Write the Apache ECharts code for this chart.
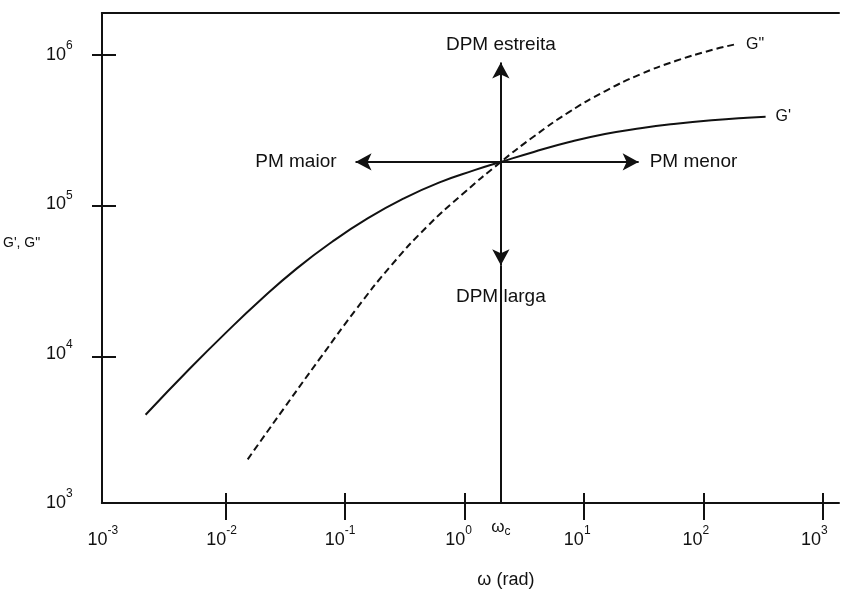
<!DOCTYPE html>
<html><head><meta charset="utf-8">
<script src="https://cdn.jsdelivr.net/npm/echarts@6/dist/echarts.min.js"></script>
<style>html,body{margin:0;padding:0;background:#fff}#c{width:842px;height:594px}</style>
</head><body><div id="c"></div>
<script>
// ---- data ----
const gPrimeOmega  = [0.00212, 0.00501, 0.01, 0.01995, 0.0398, 0.0794, 0.158, 0.316, 0.631, 1.259, 2.1, 3.98, 7.94, 15.85, 31.6, 63.1, 126, 251, 359];
const gPrimeValues = [3900, 7943, 13710, 23010, 37070, 56100, 80350, 108900, 139600, 169000, 191900, 223900, 260600, 295100, 322800, 345900, 364800, 379300, 384600];
const gDoubleOmega  = [0.0154, 0.0316, 0.0631, 0.126, 0.251, 0.501, 1.0, 2.1, 3.98, 7.94, 15.85, 31.6, 63.1, 126, 202];
const gDoubleValues = [1960, 4375, 9354, 19720, 39080, 70790, 117000, 191900, 283800, 415000, 570200, 741300, 912000, 1076000, 1178000];
const xLabelExponents = [-3, -2, -1, 0, 1, 2, 3];
const yLabelExponents = [3, 4, 5, 6];
const xTickExponents = [-2, -1, 0, 1, 2, 3];
const yTickExponents = [4, 5, 6];
const omegaC = 2.1, gC = 191900;
const leftArrowOmega = 0.125, rightArrowOmega = 30.5;
const upArrowG = 890000, downArrowG = 39000;

const X_MIN_EXP = -3.043, X_MAX_EXP = 3.174, Y_MIN_EXP = 3, Y_MAX_EXP = 6.28;
const CW = 842, CH = 594;
const GRID = {left: 101, top: 13, right: -2, bottom: 87};
const gw = CW - GRID.left - GRID.right, gh = CH - GRID.top - GRID.bottom;
const xPos = e => GRID.left + gw * (e - X_MIN_EXP) / (X_MAX_EXP - X_MIN_EXP);
const yPos = e => GRID.top + gh * (Y_MAX_EXP - e) / (Y_MAX_EXP - Y_MIN_EXP);

const FONT = 'Liberation Sans, Arial, sans-serif';
const INK = '#111';
const rich = {
  b: {fontSize: 18, lineHeight: 30, color: INK, fontFamily: FONT},
  s: {fontSize: 12, lineHeight: 12, verticalAlign: 'top', color: INK, fontFamily: FONT}
};
function powLabel(list) {
  return function (v) {
    const l = Math.log10(v), e = Math.round(l);
    if (Math.abs(l - e) > 1e-6 || list.indexOf(e) < 0) return '';
    return '{b|10}{s|' + (e < 0 ? '-' + (-e) : e) + '}';
  };
}
const zip = (a, b) => a.map((v, i) => [v, b[i]]);

const chart = echarts.init(document.getElementById('c'));
const hiddenAxis = {show: false};
const annLabel = (txt, dist) => ({show: true, position: 'end', formatter: txt, distance: dist,
  fontSize: 19, color: INK, fontFamily: FONT});

chart.setOption({
  animation: false,
  backgroundColor: '#fff',
  grid: [
    {left: GRID.left, top: GRID.top, right: GRID.right, bottom: GRID.bottom},
    {left: xPos(xTickExponents[0]), right: CW - xPos(xTickExponents[xTickExponents.length - 1]), top: GRID.top, bottom: GRID.bottom},
    {left: GRID.left, right: GRID.right, top: yPos(yTickExponents[yTickExponents.length - 1]), bottom: CH - yPos(yTickExponents[0])}
  ],
  xAxis: [
    {type: 'log', gridIndex: 0, position: 'bottom', min: Math.pow(10, X_MIN_EXP), max: Math.pow(10, X_MAX_EXP),
     axisLine: {show: true, onZero: false, lineStyle: {color: INK, width: 2}},
     axisTick: {show: false}, splitLine: {show: false},
     axisLabel: {formatter: powLabel(xLabelExponents), margin: 22, padding: [0, 8, 0, 0], rich: rich},
     name: 'ω (rad)', nameLocation: 'middle', nameGap: 68,
     nameTextStyle: {fontSize: 18, color: INK, fontFamily: FONT, padding: [0, 0, 0, 71]}},
    {type: 'value', gridIndex: 0, position: 'top', min: 0, max: 1,
     axisLine: {show: true, onZero: false, lineStyle: {color: INK, width: 2}},
     axisTick: {show: false}, axisLabel: {show: false}, splitLine: {show: false}},
    {type: 'log', gridIndex: 1, position: 'bottom', min: Math.pow(10, xTickExponents[0]), max: Math.pow(10, xTickExponents[xTickExponents.length - 1]),
     axisLine: {show: false}, axisLabel: {show: false}, splitLine: {show: false},
     axisTick: {show: true, inside: true, length: 14, lineStyle: {color: INK, width: 2}}},
    {type: 'log', gridIndex: 1, position: 'bottom', min: Math.pow(10, xTickExponents[0]), max: Math.pow(10, xTickExponents[xTickExponents.length - 1]),
     axisLine: {show: false}, axisLabel: {show: false}, splitLine: {show: false},
     axisTick: {show: true, inside: false, length: 13, lineStyle: {color: INK, width: 2}}},
    Object.assign({type: 'value', gridIndex: 2}, hiddenAxis)
  ],
  yAxis: [
    {type: 'log', gridIndex: 0, position: 'left', min: Math.pow(10, Y_MIN_EXP), max: Math.pow(10, Y_MAX_EXP),
     axisLine: {show: true, onZero: false, lineStyle: {color: INK, width: 2}},
     axisTick: {show: false}, splitLine: {show: false},
     axisLabel: {formatter: powLabel(yLabelExponents), margin: 29, rich: rich},
     name: "G', G\"", nameLocation: 'middle', nameRotate: 0, nameGap: 46,
     nameTextStyle: {fontSize: 14, color: INK, fontFamily: FONT, verticalAlign: 'bottom', padding: [0, 0, 8, 0]}},
    Object.assign({type: 'value', gridIndex: 1}, hiddenAxis),
    {type: 'log', gridIndex: 2, position: 'left', min: Math.pow(10, yTickExponents[0]), max: Math.pow(10, yTickExponents[yTickExponents.length - 1]),
     axisLine: {show: false}, axisLabel: {show: false}, splitLine: {show: false},
     axisTick: {show: true, inside: true, length: 15, lineStyle: {color: INK, width: 2}}},
    {type: 'log', gridIndex: 2, position: 'left', min: Math.pow(10, yTickExponents[0]), max: Math.pow(10, yTickExponents[yTickExponents.length - 1]),
     axisLine: {show: false}, axisLabel: {show: false}, splitLine: {show: false},
     axisTick: {show: true, inside: false, length: 9, lineStyle: {color: INK, width: 2}}}
  ],
  series: [
    {name: "G'", type: 'line', xAxisIndex: 0, yAxisIndex: 0, data: zip(gPrimeOmega, gPrimeValues),
     smooth: true, symbol: 'none', lineStyle: {color: INK, width: 2}, z: 3,
     endLabel: {show: true, formatter: "G'", distance: 10, fontSize: 16, color: INK, fontFamily: FONT}},
    {name: 'G"', type: 'line', xAxisIndex: 0, yAxisIndex: 0, data: zip(gDoubleOmega, gDoubleValues),
     smooth: true, symbol: 'none', lineStyle: {color: INK, width: 2, type: [7, 4]}, z: 3,
     endLabel: {show: true, formatter: 'G"', distance: 10, fontSize: 16, color: INK, fontFamily: FONT}},
    {name: 'arrows', type: 'line', xAxisIndex: 0, yAxisIndex: 0, data: [[omegaC, gC]], symbol: 'none',
     lineStyle: {width: 0},
     markLine: {
       silent: true, animation: false, symbol: ['none', 'arrow'], symbolSize: [13, 16],
       lineStyle: {color: INK, width: 2, type: 'solid'},
       label: {show: false},
       emphasis: {disabled: true},
       data: [
         [{coord: [omegaC, gC]}, {coord: [leftArrowOmega, gC], label: annLabel('PM maior', 19)}],
         [{coord: [omegaC, gC]}, {coord: [rightArrowOmega, gC], label: annLabel('PM menor', 11)}],
         [{coord: [omegaC, gC]}, {coord: [omegaC, upArrowG], label: annLabel('DPM estreita', 8)}],
         [{coord: [omegaC, gC]}, {coord: [omegaC, downArrowG], label: annLabel('DPM larga', 22)}],
         [{coord: [omegaC, downArrowG]}, {coord: [omegaC, Math.pow(10, Y_MIN_EXP)], symbol: 'none',
           label: {show: true, position: 'end', distance: 13, formatter: '{w|ω}{c|c}',
             rich: {w: {fontSize: 17, lineHeight: 22, color: INK, fontFamily: FONT},
                    c: {fontSize: 12, lineHeight: 12, verticalAlign: 'bottom', color: INK, fontFamily: FONT}}}}]
       ]
     }}
  ]
});
</script></body></html>
